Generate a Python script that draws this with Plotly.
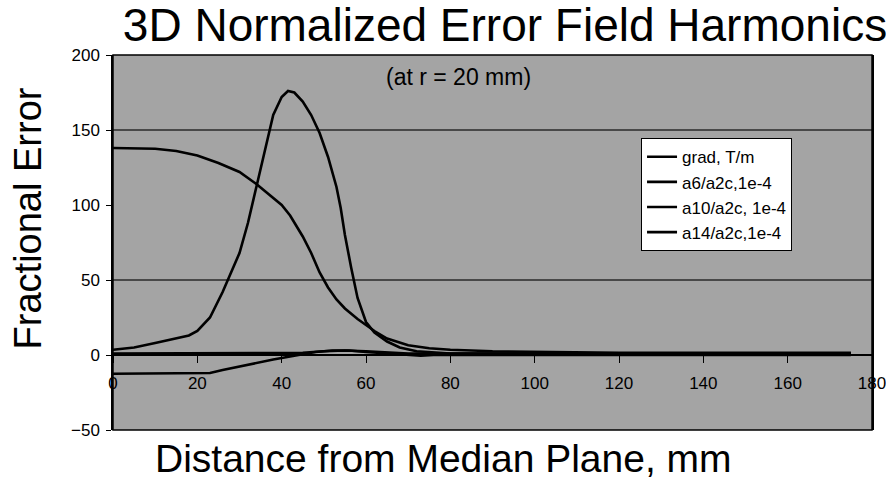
import plotly.graph_objects as go

# ---- data ----
grad_x = [0, 10, 15, 20, 25, 30, 34, 38, 40, 42, 45, 47, 49, 51, 53, 55, 58, 60, 62, 65, 70, 75, 80, 90, 100, 120, 140, 160, 175]
grad_y = [138, 137.5, 136, 133, 128, 122, 114, 105, 100, 93, 79, 68, 55, 45, 37, 31, 24, 20, 16, 11, 6.5, 4.5, 3.5, 2.5, 2, 1.5, 1.5, 1.5, 1.5]

a6_x = [0, 5, 10, 15, 18, 20, 23, 26, 28, 30, 32, 34, 36, 38, 40, 41.5, 43, 45, 47, 49, 51, 53, 54, 55, 56.5, 58, 60, 62, 65, 68, 72, 76, 80, 90, 100, 120, 140, 160, 175]
a6_y = [3.5, 5, 8, 11, 13, 16, 25, 42, 55, 68, 88, 112, 138, 160, 172, 176, 175, 169, 160, 148, 132, 112, 98, 80, 58, 38, 22, 15, 9, 5, 2.5, 1.5, 1, 1, 1, 1, 1, 1, 1]

a10_x = [0, 20, 40, 45, 50, 55, 60, 65, 70, 80, 100, 120, 140, 160, 175]
a10_y = [1, 1, 1, 1.5, 2.5, 3, 2.5, 1.5, 1, 1, 1, 1, 1, 1, 1]

a14_x = [0, 10, 20, 23, 26, 30, 34, 38, 42, 45, 48, 52, 56, 60, 65, 70, 73, 76, 80, 90, 100, 120, 140, 160, 175]
a14_y = [-12.5, -12.5, -12.5, -12, -10, -7.5, -5, -3, -1, 0.5, 2, 3, 3, 2, 1, 0, -0.5, 0, 0, 0, 0, 0, 0, 0, 0]

names = ["grad, T/m", "a6/a2c,1e-4", "a10/a2c, 1e-4", "a14/a2c,1e-4"]
xs = [grad_x, a6_x, a10_x, a14_x]
ys = [grad_y, a6_y, a10_y, a14_y]

x_ticks = [0, 20, 40, 60, 80, 100, 120, 140, 160, 180]
y_ticks = [-50, 0, 50, 100, 150, 200]
grid_y = [50, 150]

FONT = "Liberation Sans, Arial, Helvetica, sans-serif"

fig = go.Figure()
for i, (n, x, y) in enumerate(zip(names, xs, ys)):
    fig.add_trace(go.Scatter(x=x, y=y, name=n, mode="lines",
                             legendgroup=f"g{i}",
                             line=dict(color="black", width=2.6)))

for g in grid_y:
    fig.add_hline(y=g, line=dict(color="#2a2a2a", width=1.6), layer="below")

fig.add_shape(type="rect", xref="paper", yref="paper", x0=0, x1=1, y0=0, y1=1,
              line=dict(color="black", width=1.5))

fig.update_layout(
    width=886, height=480,
    margin=dict(l=113, r=14, t=55, b=50, autoexpand=False),
    paper_bgcolor="white",
    plot_bgcolor="#a4a4a4",
    font=dict(family=FONT, color="black"),
    title=dict(text="3D Normalized Error Field Harmonics",
               x=505 / 886, xanchor="center", xref="container",
               y=1 - 25 / 480, yanchor="middle", yref="container",
               font=dict(size=46, family=FONT, color="black")),
    xaxis=dict(range=[0, 180], tickvals=x_ticks, anchor="free", position=0.2,
               automargin=False, ticklabeloverflow="allow",
               showline=True, linecolor="black", linewidth=2,
               ticks="outside", ticklen=7, tickcolor="black", tickwidth=1,
               ticklabelstandoff=6,
               tickfont=dict(size=17, family=FONT, color="black"),
               showgrid=False, zeroline=False),
    yaxis=dict(range=[-50, 200], tickvals=y_ticks, automargin=False,
               showline=True, linecolor="black", linewidth=1.5, mirror=True,
               ticks="outside", ticklen=5, tickcolor="black",
               ticklabelstandoff=3,
               tickfont=dict(size=17, family=FONT, color="black"),
               showgrid=False, zeroline=False),
    legend=dict(x=0.6957, y=0.778, xanchor="left", yanchor="top",
                bgcolor="white", bordercolor="black", borderwidth=1,
                font=dict(size=17, family=FONT, color="black"),
                tracegroupgap=0, traceorder="grouped"),
    showlegend=True,
)

fig.add_annotation(text="(at r = 20 mm)", xref="paper", yref="paper",
                   x=0.455, y=0.941, xanchor="center", yanchor="middle",
                   showarrow=False, font=dict(size=23, family=FONT, color="black"))
fig.add_annotation(text="Distance from Median Plane, mm", xref="paper", yref="paper",
                   x=0.435, y=-0.077, xanchor="center", yanchor="middle",
                   showarrow=False, font=dict(size=39, family=FONT, color="black"))
fig.add_annotation(text="Fractional Error", xref="paper", yref="paper",
                   x=-0.1116, y=0.565, xanchor="center", yanchor="middle",
                   textangle=-90, showarrow=False,
                   font=dict(size=38, family=FONT, color="black"))

fig.write_html("out.html")
